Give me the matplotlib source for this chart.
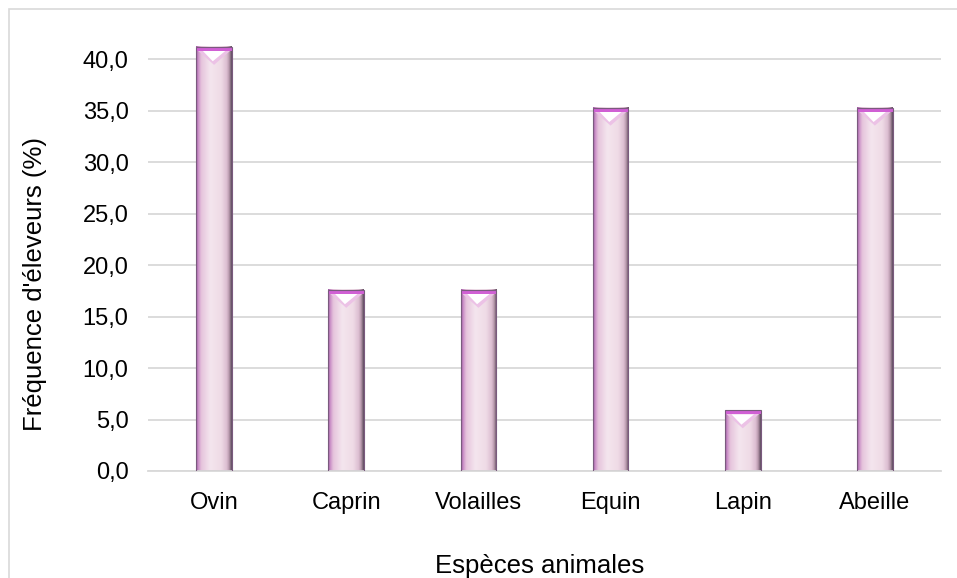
import numpy as np
import matplotlib
matplotlib.use('Agg')
import matplotlib.pyplot as plt
from matplotlib.colors import LinearSegmentedColormap
from matplotlib.patches import Polygon, Rectangle

# Fréquence des éleveurs par espèce (%)
especes = ['Ovin', 'Caprin', 'Volailles', 'Equin', 'Lapin', 'Abeille']
frequences = [41.2, 17.6, 17.6, 35.3, 5.9, 35.3]
yticks = [0, 5, 10, 15, 20, 25, 30, 35, 40]
ytick_labels = ['0,0', '5,0', '10,0', '15,0', '20,0', '25,0', '30,0', '35,0', '40,0']

plt.rcParams['font.family'] = ['Liberation Sans', 'DejaVu Sans']

W, H = 957, 578
fig = plt.figure(figsize=(W / 100, H / 100), dpi=100)
ax = fig.add_axes([148 / W, 1 - 471 / H, (941 - 148) / W, 0.757])

# degrade horizontal des barres (bord violet a gauche, centre clair, bord sombre a droite)
bar_cmap = LinearSegmentedColormap.from_list('bar', [
    (0.00, '#9a5aa0'),
    (0.05, '#c98cc6'),
    (0.14, '#e6c4dc'),
    (0.40, '#f4e6ee'),
    (0.70, '#efdbe6'),
    (0.86, '#ddbfd2'),
    (0.93, '#b898ac'),
    (1.00, '#5e4c5e'),
])
grad = np.linspace(0, 1, 64).reshape(1, -1)

largeur = 0.27
x = np.arange(len(especes))
for xi, val in zip(x, frequences):
    x0, x1 = xi - largeur / 2, xi + largeur / 2
    ax.imshow(grad, extent=[x0, x1, 0, val], aspect='auto', cmap=bar_cmap,
              interpolation='bicubic', zorder=2)
    # reflet en haut de la barre
    tri_h = min(1.4, val * 0.25)
    ax.add_patch(Polygon([(x0 + 0.01, val - 0.35), (x1 - 0.01, val - 0.35), (xi, val - 0.35 - tri_h)],
                         closed=True, facecolor='#ecc2e6', edgecolor='none', zorder=3))
    ax.add_patch(Polygon([(x0 + 0.05, val - 0.4), (x1 - 0.05, val - 0.4), (xi - 0.01, val - 0.35 - tri_h * 0.75)],
                         closed=True, facecolor='white', edgecolor='none', zorder=3))
    ax.add_patch(Rectangle((x0, val - 0.4), largeur, 0.4, facecolor='#d060d4',
                           edgecolor='none', zorder=3))
    ax.add_patch(Rectangle((x0, 0), largeur, val, facecolor='none',
                           edgecolor='#7a5a7e', linewidth=0.8, zorder=4))

ax.set_xlim(-0.5, len(especes) - 0.5)
ax.set_ylim(0, 42.5)
ax.set_xticks(x)
ax.set_xticklabels(especes, fontsize=17)
ax.set_yticks(yticks)
ax.set_yticklabels(ytick_labels, fontsize=17)
ax.tick_params(axis='x', length=0, pad=15)
ax.tick_params(axis='y', length=0, pad=14)
ax.yaxis.grid(True, color='#d9d9d9', linewidth=1.3)
ax.set_axisbelow(True)
for s in ['top', 'right', 'left']:
    ax.spines[s].set_visible(False)
ax.spines['bottom'].set_color('#d9d9d9')
ax.spines['bottom'].set_linewidth(1.3)

fig.text(540 / W, 1 - 573 / H, 'Espèces animales', ha='center', va='baseline', fontsize=18.5)
fig.text(35 / W, 1 - 284 / H, "Fréquence d'éleveurs (%)", ha='center', va='center',
         rotation=90, fontsize=18.5)

# cadre du graphique
fig.patches.append(Rectangle((9 / W, -0.1), 2, 1.1 - 9 / H, fill=False, edgecolor='#d9d9d9',
                             linewidth=1.2, transform=fig.transFigure, figure=fig))

fig.savefig('out.png', dpi=100)
